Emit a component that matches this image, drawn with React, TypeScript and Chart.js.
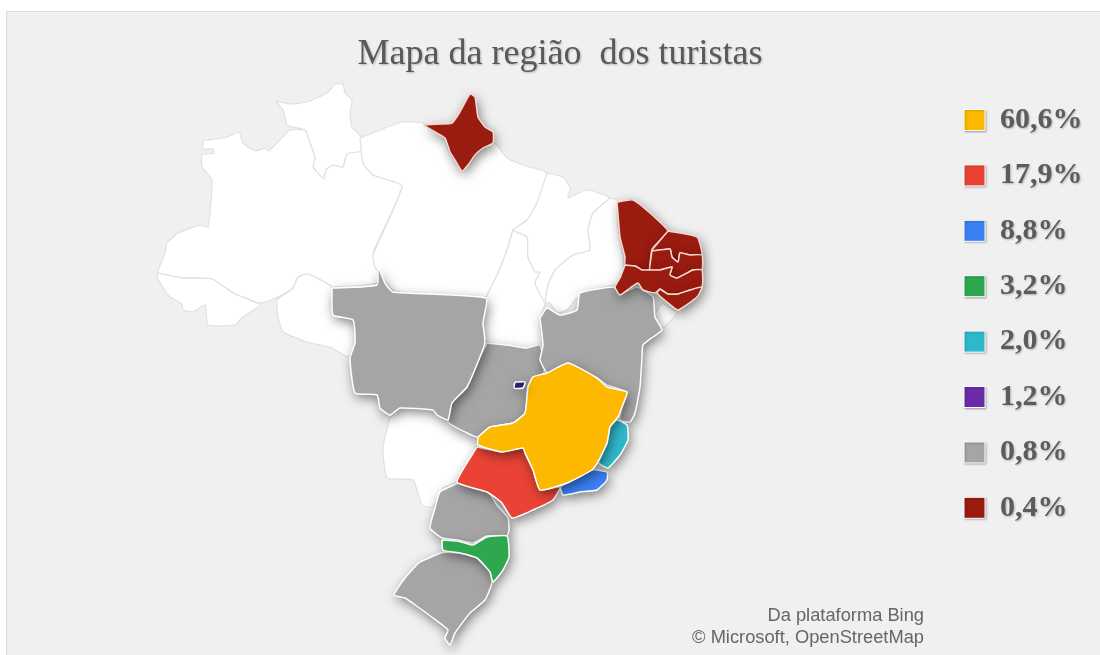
import React, { useEffect, useRef } from "react";
import Chart from "chart.js/auto";

const titleText = "Mapa da região  dos turistas";
const legendLabels = ["60,6%", "17,9%", "8,8%", "3,2%", "2,0%", "1,2%", "0,8%", "0,4%"];
const legendColors = ["#FDB900", "#EA4335", "#3B80F5", "#2EA84F", "#2FB8CC", "#6B2BA8", "#A5A5A5", "#9A1B10"];
const creditLines = ["Da plataforma Bing", "© Microsoft, OpenStreetMap"];

type P = number[];
const roraima: P[] = [[276,101],[290,104],[307,102],[327,93],[335,84],[343,84],[345,93],[352,100],[350,113],[352,127],[363,139],[362,152],[347,154],[343,167],[333,165],[326,170],[324,179],[313,167],[315,158],[309,140],[305,130],[293,127],[287,125],[283,110]];
const amazonas: P[] = [[203,141],[227,137],[239,132],[243,143],[255,151],[265,148],[269,151],[278,142],[290,130],[305,130],[309,140],[315,158],[313,167],[324,179],[326,170],[333,165],[343,167],[347,154],[362,152],[363,163],[373,175],[402,186],[373,253],[377,267],[377,283],[332,287],[317,278],[307,274],[298,277],[292,289],[278,297],[260,303],[233,293],[212,279],[183,278],[158,273],[165,253],[167,243],[178,233],[200,225],[208,227],[212,180],[202,167],[202,155],[214,153],[213,149],[203,149]];
const acre: P[] = [[158,273],[183,278],[212,279],[233,293],[260,305],[243,317],[235,325],[208,325],[205,305],[193,312],[183,310],[182,304],[170,297],[163,288],[157,277]];
const rondonia: P[] = [[298,277],[307,274],[317,278],[332,287],[333,313],[353,318],[354,328],[357,343],[348,357],[332,348],[307,342],[283,332],[278,317],[277,300],[292,289]];
const amapa: P[] = [[423,125],[440,124],[452,123],[460,112],[470,94],[475,97],[478,117],[485,127],[493,132],[493,143],[483,148],[475,155],[468,165],[462,171],[455,160],[450,152],[445,138],[435,132]];
const para: P[] = [[360,138],[380,130],[402,122],[423,123],[430,130],[445,137],[448,150],[455,160],[462,171],[472,160],[480,150],[493,143],[497,145],[507,158],[523,165],[547,173],[537,203],[527,220],[513,230],[507,250],[498,273],[487,297],[420,295],[393,290],[375,267],[373,255],[402,186],[373,175],[363,163]];
const tocantins: P[] = [[513,230],[527,237],[528,257],[535,272],[540,272],[535,283],[545,303],[540,320],[543,343],[543,346],[527,348],[507,345],[487,342],[482,327],[485,300],[498,273],[507,250]];
const maranhao: P[] = [[547,173],[563,177],[570,188],[568,198],[587,190],[610,198],[593,213],[588,230],[590,250],[573,255],[555,270],[548,285],[545,303],[535,283],[540,272],[535,272],[528,257],[527,237],[513,230],[527,220],[537,203]];
const piaui: P[] = [[610,198],[617,200],[618,227],[623,257],[623,273],[615,285],[603,287],[577,298],[567,310],[557,313],[550,303],[545,303],[548,285],[555,270],[573,255],[590,250],[588,230],[593,213]];
const ceara: P[] = [[617,202],[633,200],[650,213],[668,231],[662,238],[652,249],[650,265],[649,270],[642,270],[635,266],[625,265],[625,257],[620,237]];
const rioGrandeNorte: P[] = [[668,231],[697,237],[702,255],[690,255],[680,253],[678,262],[672,257],[670,249],[652,251],[662,238]];
const paraiba: P[] = [[652,251],[670,249],[672,257],[678,262],[680,253],[690,255],[702,255],[702,270],[693,270],[677,278],[670,275],[672,267],[660,270],[650,270],[650,265]];
const pernambuco: P[] = [[625,265],[635,266],[642,270],[650,270],[660,270],[672,267],[670,275],[677,278],[693,270],[702,270],[702,287],[690,290],[678,294],[668,294],[660,289],[655,293],[643,290],[638,283],[630,288],[620,295],[615,287],[620,278]];
const alagoas: P[] = [[660,289],[668,294],[678,294],[690,290],[702,287],[697,297],[678,310],[667,302],[657,293]];
const sergipe: P[] = [[662,303],[677,313],[662,328],[653,318]];
const bahia: P[] = [[540,318],[547,308],[560,315],[577,310],[580,293],[613,287],[622,293],[637,287],[653,297],[655,317],[662,330],[653,337],[643,345],[642,357],[640,387],[635,413],[630,422],[620,420],[622,407],[627,392],[613,387],[607,385],[597,378],[573,367],[568,363],[553,372],[547,373],[540,360],[543,345]];
const goias: P[] = [[487,343],[507,345],[527,348],[540,345],[544,373],[533,377],[528,387],[525,413],[513,423],[490,427],[478,437],[467,433],[448,422],[452,403],[467,387],[480,357]];
const distritoFederal: P[] = [[515,382],[525,382],[523,388],[514,388]];
const matoGrosso: P[] = [[332,288],[377,285],[378,267],[385,283],[393,292],[486,298],[483,323],[485,342],[480,357],[467,387],[452,403],[448,420],[437,415],[433,410],[400,408],[390,415],[380,408],[377,395],[355,393],[350,358],[355,343],[353,320],[333,315]];
const matoGrossoSul: P[] = [[390,418],[383,447],[387,478],[413,480],[422,505],[433,507],[443,488],[457,482],[477,447],[478,437],[467,433],[448,422],[437,415],[433,410],[400,408]];
const minasGerais: P[] = [[478,437],[490,427],[513,423],[525,413],[528,387],[533,377],[547,373],[568,363],[597,378],[607,387],[627,392],[622,407],[618,417],[610,427],[607,443],[598,462],[592,470],[567,483],[540,490],[533,470],[525,453],[523,448],[502,452],[478,445]];
const saoPaulo: P[] = [[477,447],[502,452],[523,448],[525,453],[533,470],[540,490],[560,487],[553,500],[533,510],[512,518],[502,503],[487,492],[457,482]];
const rioDeJaneiro: P[] = [[560,487],[592,470],[607,472],[607,480],[597,490],[580,492],[563,495]];
const espiritoSanto: P[] = [[610,427],[617,420],[627,425],[628,440],[620,455],[608,468],[598,462],[607,443]];
const parana: P[] = [[458,483],[487,490],[497,505],[508,518],[509,530],[507,536],[487,536],[473,543],[458,540],[442,538],[430,528],[435,508],[440,492]];
const santaCatarina: P[] = [[442,540],[458,541],[473,545],[487,537],[507,536],[509,557],[503,570],[493,582],[490,572],[477,558],[460,553],[443,550]];
const rioGrandeSul: P[] = [[443,552],[460,553],[477,558],[490,572],[492,583],[485,600],[470,613],[455,633],[450,645],[445,638],[448,630],[433,618],[418,607],[405,598],[394,595],[405,578],[420,562]];

// Draw order: the first entries lie underneath. share = index into the legend; -1 means no data.
const regions: { name: string; outline: P[]; share: number }[] = [
  { name: "Roraima", outline: roraima, share: -1 },
  { name: "Amazonas", outline: amazonas, share: -1 },
  { name: "Acre", outline: acre, share: -1 },
  { name: "Rondônia", outline: rondonia, share: -1 },
  { name: "Pará", outline: para, share: -1 },
  { name: "Tocantins", outline: tocantins, share: -1 },
  { name: "Maranhão", outline: maranhao, share: -1 },
  { name: "Piauí", outline: piaui, share: -1 },
  { name: "Sergipe", outline: sergipe, share: -1 },
  { name: "Mato Grosso do Sul", outline: matoGrossoSul, share: -1 },
  { name: "Goiás", outline: goias, share: 6 },
  { name: "Mato Grosso", outline: matoGrosso, share: 6 },
  { name: "Bahia", outline: bahia, share: 6 },
  { name: "Paraná", outline: parana, share: 6 },
  { name: "Rio Grande do Sul", outline: rioGrandeSul, share: 6 },
  { name: "Santa Catarina", outline: santaCatarina, share: 3 },
  { name: "São Paulo", outline: saoPaulo, share: 1 },
  { name: "Rio de Janeiro", outline: rioDeJaneiro, share: 2 },
  { name: "Espírito Santo", outline: espiritoSanto, share: 4 },
  { name: "Minas Gerais", outline: minasGerais, share: 0 },
  { name: "Amapá", outline: amapa, share: 7 },
  { name: "Ceará", outline: ceara, share: 7 },
  { name: "Rio Grande do Norte", outline: rioGrandeNorte, share: 7 },
  { name: "Paraíba", outline: paraiba, share: 7 },
  { name: "Pernambuco", outline: pernambuco, share: 7 },
  { name: "Alagoas", outline: alagoas, share: 7 },
  { name: "Distrito Federal", outline: distritoFederal, share: 5 },
];

export default function App() {
  const ref = useRef<HTMLCanvasElement | null>(null);
  useEffect(() => {
    const noShadow = (ctx: CanvasRenderingContext2D) => {
      ctx.shadowColor = "rgba(0,0,0,0)";
      ctx.shadowBlur = 0;
      ctx.shadowOffsetX = 0;
      ctx.shadowOffsetY = 0;
    };
    const ordered = regions.slice().reverse();
    const setFor = (ctx: CanvasRenderingContext2D, i: number) => {
      noShadow(ctx);
      if (i >= 0 && ordered[i] && ordered[i].share >= 0) {
        ctx.shadowColor = "rgba(0,0,0,0.5)";
        ctx.shadowBlur = 12;
        ctx.shadowOffsetX = 2;
        ctx.shadowOffsetY = 4;
      }
    };
    const shadows = {
      id: "mapShadows",
      beforeDraw(chart: any) {
        const c = chart.ctx;
        c.shadowColor = "rgba(0,0,0,0.25)";
        c.shadowBlur = 2;
        c.shadowOffsetX = 1;
        c.shadowOffsetY = 1;
      },
      beforeDatasetsDraw(chart: any) {
        setFor(chart.ctx, ordered.length - 1);
      },
      beforeDatasetDraw(chart: any) {
        noShadow(chart.ctx);
      },
      afterDatasetDraw(chart: any, args: any) {
        setFor(chart.ctx, args.index - 1);
      },
      afterDatasetsDraw(chart: any) {
        noShadow(chart.ctx);
      },
    };
    const chart = new Chart(ref.current as HTMLCanvasElement, {
      type: "scatter",
      data: {
        datasets: ordered.map((r) => ({
          label: r.name,
          data: r.outline.concat([r.outline[0]]).map((p) => ({ x: p[0], y: p[1] })),
          showLine: true,
          pointRadius: 0,
          tension: 0.15,
          fill: "shape",
          backgroundColor:
            r.name === "Distrito Federal" ? "#2B1F66" : r.share >= 0 ? legendColors[r.share] : "#FFFFFF",
          borderColor: r.share === 7 ? "#F6D9CF" : r.share >= 0 ? "#FFFFFF" : "#E0E0E0",
          borderWidth: r.share >= 0 ? 1.5 : 1.2,
          clip: false,
        })),
      },
      options: {
        animation: false,
        responsive: false,
        layout: { padding: { left: 31.4, right: 11.4, top: 0, bottom: 0 } },
        scales: {
          x: { type: "linear", display: false, min: 31.4, max: 938.6 },
          y: { type: "linear", display: false, min: 80, max: 655, reverse: true },
        },
        plugins: {
          tooltip: { enabled: false },
          title: {
            display: true,
            text: titleText,
            color: "#595959",
            font: { family: "'Liberation Serif'", size: 36, weight: "normal", lineHeight: 1.2 },
            padding: { top: 33, bottom: 3.8 },
          },
          legend: {
            display: true,
            position: "right",
            align: "start",
            maxWidth: 150,
            title: {
              display: true,
              text: " ",
              font: { size: 10, lineHeight: 1 },
              padding: { top: 69.6, bottom: 0 },
            },
            labels: {
              boxWidth: 21,
              boxHeight: 21,
              padding: 25.4,
              color: "#5C5C5C",
              font: { family: "'Liberation Serif'", size: 30, weight: "bold" },
              generateLabels: () =>
                legendLabels.map((t, i) => ({
                  text: t,
                  fillStyle: legendColors[i],
                  strokeStyle: "#FFFFFF",
                  lineWidth: 1,
                  fontColor: "#5C5C5C",
                  hidden: false,
                  datasetIndex: 0,
                })),
            },
          },
        },
      },
      plugins: [shadows],
    } as any);
    return () => chart.destroy();
  }, []);

  return (
    <div style={{ position: "fixed", left: 0, top: 0, width: 1100, height: 655, background: "#FFFFFF", overflow: "hidden" }}>
      <div
        style={{
          position: "absolute",
          left: 6,
          top: 11,
          right: -2,
          bottom: -2,
          background: "#F0F0F0",
          border: "1px solid #DDDDDD",
        }}
      />
      <canvas ref={ref} width={1100} height={655} style={{ position: "absolute", left: 0, top: 0, width: 1100, height: 655 }} />
      <div
        style={{
          position: "absolute",
          right: 176,
          top: 604,
          textAlign: "right",
          font: "18.3px/22px 'Liberation Sans'",
          color: "#666666",
          whiteSpace: "nowrap",
        }}
      >
        {creditLines.map((l) => (
          <div key={l}>{l}</div>
        ))}
      </div>
    </div>
  );
}
